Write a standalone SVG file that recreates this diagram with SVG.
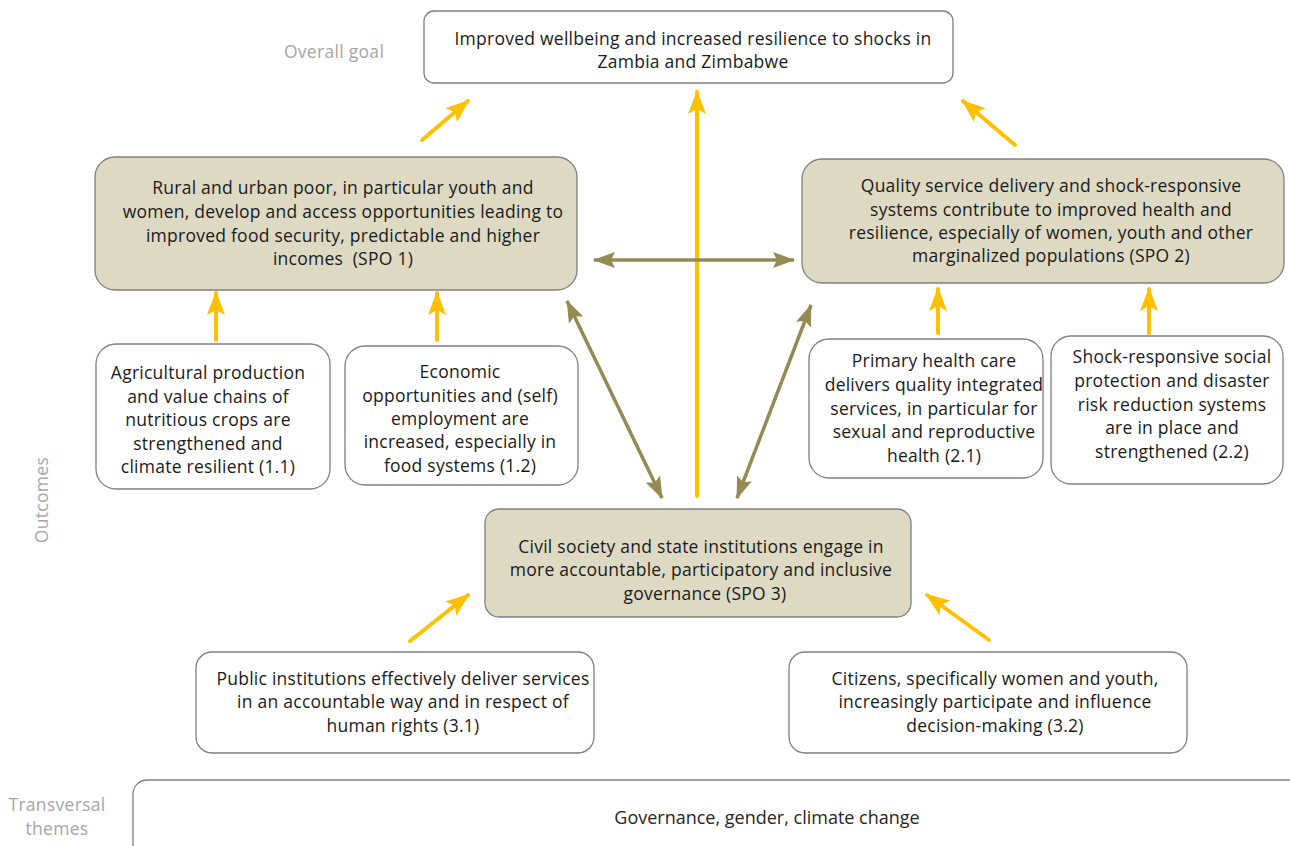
<svg xmlns="http://www.w3.org/2000/svg" width="1290" height="846" viewBox="0 0 1290 846">
<defs>
<style>
.box{fill:#ffffff;stroke:#7f7f7f;stroke-width:1.3}
.spo{fill:#ddd9c3;stroke:#7f7f7f;stroke-width:1.3}
.t{font-family:"Open Sans","Noto Sans","Liberation Sans",sans-serif;font-size:17.5px;letter-spacing:0.25px;fill:#1a1a1a;text-anchor:middle}
.lbl{font-family:"Open Sans","Noto Sans","Liberation Sans",sans-serif;font-size:17.5px;letter-spacing:0.3px;fill:#a6a6a6;text-anchor:middle}
.y{stroke:#ffc000;stroke-width:4;fill:none;stroke-linecap:round;marker-end:url(#ay)}
.o{stroke:#948a54;stroke-width:3.5;fill:none;marker-end:url(#ao);marker-start:url(#aos)}
</style>
<marker id="ay" markerUnits="userSpaceOnUse" markerWidth="24" markerHeight="20" viewBox="0 0 24 20" refX="22" refY="10" orient="auto">
<path d="M0,1 L24,10 L0,19 L5,10 Z" fill="#ffc000"/>
</marker>
<marker id="ao" markerUnits="userSpaceOnUse" markerWidth="22" markerHeight="18" viewBox="0 0 22 18" refX="21" refY="9" orient="auto">
<path d="M0,1 L22,9 L0,17 L4,9 Z" fill="#948a54"/>
</marker>
<marker id="aos" markerUnits="userSpaceOnUse" markerWidth="22" markerHeight="18" viewBox="0 0 22 18" refX="1" refY="9" orient="auto">
<path d="M22,1 L0,9 L22,17 L18,9 Z" fill="#948a54"/>
</marker>
</defs>

<g id="labels">
<text class="lbl" x="334" y="58">Overall goal</text>
<text class="lbl" transform="translate(48,500) rotate(-90)">Outcomes</text>
<text class="lbl" x="57" y="811">Transversal</text>
<text class="lbl" x="57" y="835">themes</text>
</g>

<g id="connectors">
<line class="y" x1="422" y1="140" x2="468" y2="101"/>
<line class="y" x1="697" y1="496" x2="697" y2="92"/>
<line class="y" x1="1015" y1="145" x2="963" y2="101"/>
<line class="y" x1="216" y1="340" x2="216" y2="293"/>
<line class="y" x1="437" y1="340" x2="437" y2="293"/>
<line class="y" x1="938" y1="333" x2="938" y2="289"/>
<line class="y" x1="1149" y1="333" x2="1149" y2="289"/>
<line class="y" x1="410" y1="641" x2="468" y2="595"/>
<line class="y" x1="989" y1="640" x2="927" y2="595"/>
<line class="o" x1="594" y1="260" x2="794" y2="260"/>
<line class="o" x1="567" y1="301" x2="662" y2="498"/>
<line class="o" x1="811" y1="305" x2="737" y2="498"/>
</g>

<g id="goal">
<rect class="box" x="424" y="11" width="529" height="72" rx="10"/>
<text class="t" x="693" y="45">Improved wellbeing and increased resilience to shocks in</text>
<text class="t" x="693" y="68">Zambia and Zimbabwe</text>
</g>

<g id="spo1">
<rect class="spo" x="95" y="157" width="482" height="133" rx="20"/>
<text class="t" x="343" y="194">Rural and urban poor, in particular youth and</text>
<text class="t" x="343" y="218">women, develop and access opportunities leading to</text>
<text class="t" x="343" y="242">improved food security, predictable and higher</text>
<text class="t" x="343" y="265" xml:space="preserve">incomes  (SPO 1)</text>
</g>

<g id="spo2">
<rect class="spo" x="802" y="159" width="482" height="124" rx="20"/>
<text class="t" x="1051" y="192">Quality service delivery and shock-responsive</text>
<text class="t" x="1051" y="216">systems contribute to improved health and</text>
<text class="t" x="1051" y="239">resilience, especially of women, youth and other</text>
<text class="t" x="1051" y="262">marginalized populations (SPO 2)</text>
</g>

<g id="o11">
<rect class="box" x="96" y="344" width="234" height="145" rx="20"/>
<text class="t" x="208" y="379">Agricultural production</text>
<text class="t" x="208" y="403">and value chains of</text>
<text class="t" x="208" y="426">nutritious crops are</text>
<text class="t" x="208" y="450">strengthened and</text>
<text class="t" x="208" y="473">climate resilient (1.1)</text>
</g>

<g id="o12">
<rect class="box" x="345" y="346" width="233" height="139" rx="20"/>
<text class="t" x="460" y="378">Economic</text>
<text class="t" x="460" y="402">opportunities and (self)</text>
<text class="t" x="460" y="425">employment are</text>
<text class="t" x="460" y="448">increased, especially in</text>
<text class="t" x="460" y="472">food systems (1.2)</text>
</g>

<g id="o21">
<rect class="box" x="809" y="339" width="234" height="139" rx="20"/>
<text class="t" x="934" y="367">Primary health care</text>
<text class="t" x="934" y="391">delivers quality integrated</text>
<text class="t" x="934" y="415">services, in particular for</text>
<text class="t" x="934" y="438">sexual and reproductive</text>
<text class="t" x="934" y="462">health (2.1)</text>
</g>

<g id="o22">
<rect class="box" x="1051" y="336" width="232" height="148" rx="20"/>
<text class="t" x="1172" y="363">Shock-responsive social</text>
<text class="t" x="1172" y="387">protection and disaster</text>
<text class="t" x="1172" y="411">risk reduction systems</text>
<text class="t" x="1172" y="434">are in place and</text>
<text class="t" x="1172" y="458">strengthened (2.2)</text>
</g>

<g id="spo3">
<rect class="spo" x="485" y="509" width="426" height="108" rx="14"/>
<text class="t" x="701" y="553">Civil society and state institutions engage in</text>
<text class="t" x="701" y="576">more accountable, participatory and inclusive</text>
<text class="t" x="705" y="600">governance (SPO 3)</text>
</g>

<g id="o31">
<rect class="box" x="196" y="652" width="398" height="101" rx="16"/>
<text class="t" x="403" y="685">Public institutions effectively deliver services</text>
<text class="t" x="403" y="708">in an accountable way and in respect of</text>
<text class="t" x="403" y="732">human rights (3.1)</text>
</g>

<g id="o32">
<rect class="box" x="789" y="652" width="398" height="101" rx="16"/>
<text class="t" x="995" y="685">Citizens, specifically women and youth,</text>
<text class="t" x="995" y="708">increasingly participate and influence</text>
<text class="t" x="995" y="732">decision-making (3.2)</text>
</g>

<g id="themes">
<rect class="box" x="133" y="780" width="1170" height="100" rx="14"/>
<text class="t" x="767" y="824" style="font-size:18px;letter-spacing:0;fill:#262626">Governance, gender, climate change</text>
</g>
</svg>
